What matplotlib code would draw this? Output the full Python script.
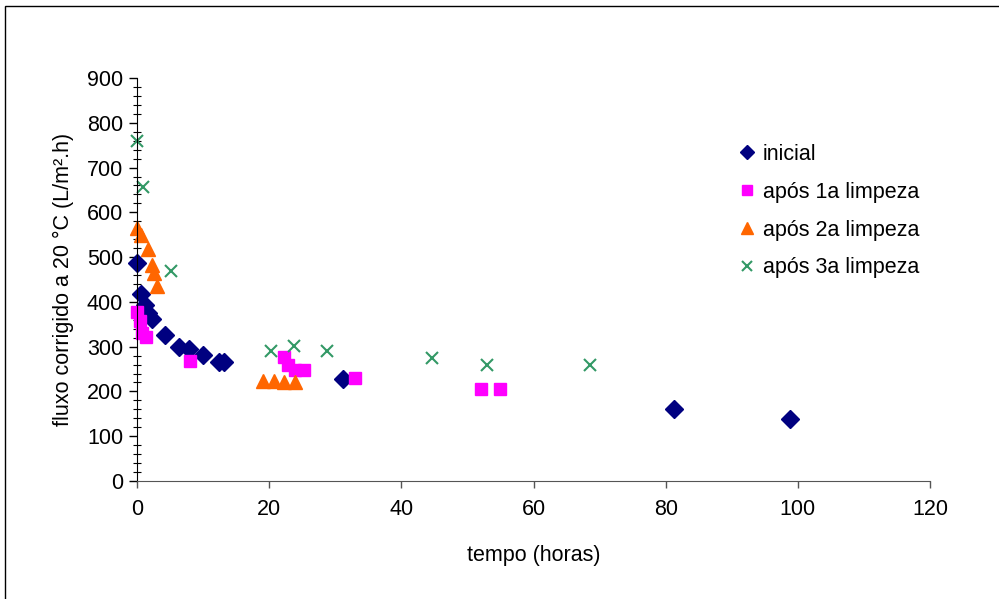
import matplotlib
matplotlib.use("Agg")
import matplotlib.pyplot as plt
from matplotlib.ticker import MultipleLocator
from matplotlib.patches import Rectangle

plt.rcParams['font.family'] = ['Liberation Sans', 'DejaVu Sans']

# Data
inicial_x = [0, 0.6, 1.2, 1.7, 2.3, 4.3, 6.4, 7.9, 10.0, 12.4, 13.2, 31.1, 81.2, 98.8]
inicial_y = [487, 417, 393, 376, 361, 326, 300, 294, 281, 265, 265, 228, 161, 139]

limp1_x = [0, 0.45, 0.7, 1.4, 8.0, 22.3, 22.9, 23.9, 25.3, 33.0, 52.0, 55.0]
limp1_y = [378, 357, 330, 321, 268, 276, 259, 249, 249, 231, 205, 205]

limp2_x = [0, 0.6, 1.6, 2.2, 2.5, 3.1, 19.1, 20.7, 22.2, 23.9]
limp2_y = [565, 549, 519, 482, 464, 436, 224, 224, 220, 220]

limp3_x = [0, 0.9, 5.1, 20.3, 23.7, 28.7, 44.6, 53.0, 68.5]
limp3_y = [760, 657, 469, 290, 301, 290, 274, 259, 259]

labels = ['inicial', 'após 1a limpeza', 'após 2a limpeza', 'após 3a limpeza']

FS = 15.5

fig = plt.figure(figsize=(9.99, 5.99), dpi=100)
fig.patches.append(Rectangle((5/999, -0.05), 1.1, 1 - 6/599 + 0.05, transform=fig.transFigure,
                             fill=False, edgecolor='black', linewidth=1.0))
ax = fig.add_axes([137/999, 1 - 481/599, (930 - 137)/999, (481 - 78)/599])

ax.plot(inicial_x, inicial_y, linestyle='none', marker='D', markersize=9,
        color='#000080', label=labels[0], clip_on=False)
ax.plot(limp1_x, limp1_y, linestyle='none', marker='s', markersize=8.5,
        color='#FF00FF', label=labels[1], clip_on=False)
ax.plot(limp2_x, limp2_y, linestyle='none', marker='^', markersize=10.5,
        color='#FF6600', label=labels[2], clip_on=False)
ax.plot(limp3_x, limp3_y, linestyle='none', marker='x', markersize=8.5, markeredgewidth=1.5,
        color='#339966', label=labels[3], clip_on=False)

ax.set_xlim(0, 120)
ax.set_ylim(0, 900)
ax.xaxis.set_major_locator(MultipleLocator(20))
ax.yaxis.set_major_locator(MultipleLocator(100))
ax.yaxis.set_minor_locator(MultipleLocator(20))

for s in ['top', 'right']:
    ax.spines[s].set_visible(False)
ax.spines['left'].set_color('black')
ax.spines['bottom'].set_color('#555555')
ax.tick_params(axis='y', which='major', direction='out', length=6, width=1, labelsize=FS, pad=4)
ax.tick_params(axis='y', which='minor', direction='inout', length=6, width=0.8)
ax.tick_params(axis='x', which='major', direction='out', length=5, width=1, color='#555555',
               labelsize=FS, pad=8)

ax.set_xlabel('tempo (horas)', fontsize=FS, labelpad=18)
ax.set_ylabel('fluxo corrigido a 20 °C (L/m².h)', fontsize=FS, labelpad=9)

ax.legend(loc='upper left', bbox_to_anchor=(738/999, 1 - 144/599), bbox_transform=fig.transFigure,
          frameon=False, fontsize=FS, handlelength=0.8, handletextpad=0.35, markerscale=0.78,
          labelspacing=0.78, borderaxespad=0, borderpad=0)

fig.savefig('out.png', dpi=100)
